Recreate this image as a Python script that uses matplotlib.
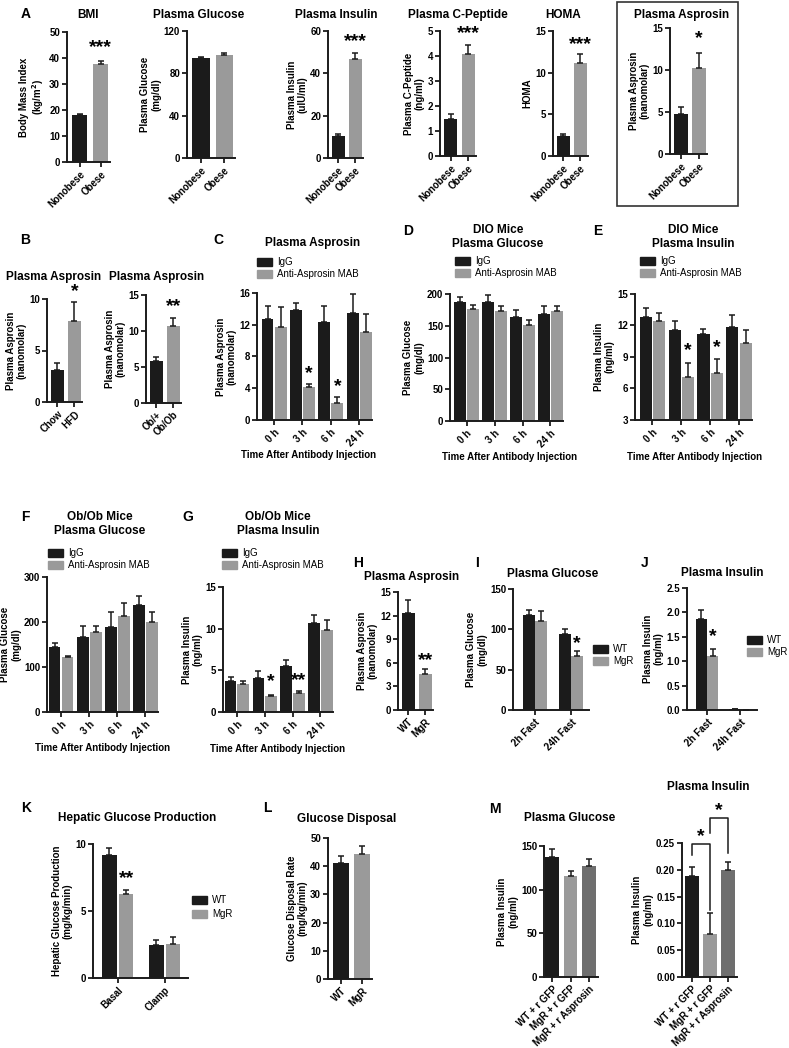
import numpy as np
import matplotlib
matplotlib.use("Agg")
import matplotlib.pyplot as plt
from matplotlib.patches import Patch, Rectangle

# === DONNÉES ===
grp_obese = ["Nonobese", "Obese"]
bmi = [18.2, 37.7]
bmi_err = [0.4, 1.1]
glc_a = [94.7, 97.3]
glc_a_err = [1.0, 1.5]
ins_a = [10.2, 46.6]
ins_a_err = [1.3, 3.2]
cpep_a = [1.47, 4.09]
cpep_a_err = [0.2, 0.36]
homa_a = [2.35, 11.2]
homa_a_err = [0.25, 1.0]
asp_a = [4.8, 10.2]
asp_a_err = [0.8, 1.8]

grp_hfd = ["Chow", "HFD"]
asp_hfd = [3.1, 7.9]
asp_hfd_err = [0.7, 1.8]
grp_ob = ["Ob/+", "Ob/Ob"]
asp_ob = [5.9, 10.7]
asp_ob_err = [0.55, 1.05]

times = ["0 h", "3 h", "6 h", "24 h"]
asp_c_igg = [12.7, 13.8, 12.3, 13.5]
asp_c_igg_err = [1.6, 0.9, 2.0, 2.4]
asp_c_mab = [11.7, 4.2, 2.2, 11.1]
asp_c_mab_err = [2.5, 0.3, 0.7, 2.3]
glc_d_igg = [188, 188, 164, 169]
glc_d_igg_err = [8, 10, 11, 12]
glc_d_mab = [177, 174, 151, 174]
glc_d_mab_err = [6, 7, 8, 7]
ins_e_igg = [12.8, 11.6, 11.2, 11.9]
ins_e_igg_err = [0.9, 0.8, 0.5, 1.1]
ins_e_mab = [12.4, 7.05, 7.45, 10.3]
ins_e_mab_err = [0.8, 1.35, 1.35, 1.3]
glc_f_igg = [145, 167, 188, 237]
glc_f_igg_err = [8, 25, 35, 20]
glc_f_mab = [122, 178, 214, 200]
glc_f_mab_err = [3, 14, 28, 22]
ins_g_igg = [3.7, 4.1, 5.5, 10.7]
ins_g_igg_err = [0.5, 0.8, 0.8, 0.9]
ins_g_mab = [3.4, 1.9, 2.3, 9.9]
ins_g_mab_err = [0.3, 0.2, 0.2, 1.2]

grp_mgr = ["WT", "MgR"]
asp_h = [12.3, 4.6]
asp_h_err = [1.7, 0.55]
fasts = ["2h Fast", "24h Fast"]
glc_i_wt = [118, 94]
glc_i_wt_err = [6, 6]
glc_i_mgr = [110, 67]
glc_i_mgr_err = [13, 6.5]
ins_j_wt = [1.86, 0.02]
ins_j_wt_err = [0.19, 0.0]
ins_j_mgr = [1.11, 0.01]
ins_j_mgr_err = [0.15, 0.0]

clamp = ["Basal", "Clamp"]
hgp_wt = [9.2, 2.5]
hgp_wt_err = [0.5, 0.3]
hgp_mgr = [6.3, 2.55]
hgp_mgr_err = [0.27, 0.5]
gdr = [41.1, 44.3]
gdr_err = [2.4, 3.0]

grp_m = ["WT + r GFP", "MgR + r GFP", "MgR + r Asprosin"]
glc_m = [137, 116, 127]
glc_m_err = [9.5, 5.5, 8]
ins_m = [0.188, 0.08, 0.2]
ins_m_err = [0.018, 0.04, 0.014]

# === STYLE ===
plt.rcParams["font.family"] = ["Liberation Sans", "DejaVu Sans"]
NOIR = "#1b1b1b"
GRIS = "#9a9a9a"
GRIS_F = "#6e6e6e"
W, H = 789, 1048
fig = plt.figure(figsize=(W / 100, H / 100), dpi=100)


def fx(x):
    return x / W


def fy(y):
    return 1 - y / H


def make_ax(box, ylim, yticks, ylabel, xlim, ticks, ticklabels, fmt="{:g}"):
    # box = (gauche, haut, droite, bas) en pixels de la figure
    x0, y0, x1, y1 = box
    ax = fig.add_axes([fx(x0), fy(y1), (x1 - x0) / W, (y1 - y0) / H])
    ax.set_xlim(*xlim)
    ax.set_ylim(*ylim)
    ax.set_yticks(yticks)
    ax.set_yticklabels([fmt.format(t) for t in yticks], fontweight="bold")
    ax.set_xticks(ticks)
    ax.set_xticklabels(ticklabels, rotation=45, ha="right",
                       rotation_mode="anchor", fontweight="bold")
    for s in ["top", "right"]:
        ax.spines[s].set_visible(False)
    for s in ["left", "bottom"]:
        ax.spines[s].set_linewidth(1.4)
        ax.spines[s].set_color(NOIR)
    ax.tick_params(width=1.3, length=3.5, labelsize=7, pad=1.5, color=NOIR)
    ax.set_ylabel(ylabel, fontsize=7, fontweight="bold", labelpad=2,
                  linespacing=1.1)
    ax.set_facecolor("none")
    return ax


def bars(ax, x, vals, errs, colors, width):
    ax.bar(x, vals, width=width, color=colors, zorder=2)
    ax.errorbar(x, vals, yerr=[np.zeros(len(vals)), errs], fmt="none",
                ecolor=NOIR, elinewidth=1.1, capsize=2.2, capthick=1.1,
                zorder=3)


def stars(ax, x, y, s):
    ax.text(x, y, s, ha="center", va="center", fontsize=14,
            fontweight="bold", clip_on=False)


def title(x, y, s):
    fig.text(fx(x), fy(y), s, ha="center", va="center", fontsize=8.5,
             fontweight="bold", linespacing=1.15)


def letter(x, y, s):
    fig.text(fx(x), fy(y), s, ha="center", va="center", fontsize=10,
             fontweight="bold")


def legende(x, y, labels, spacing=0.25):
    fig.legend(handles=[Patch(color=NOIR), Patch(color=GRIS)], labels=labels,
               loc="upper left", bbox_to_anchor=(fx(x), fy(y)),
               frameon=False, fontsize=7, handlelength=1.5, handleheight=0.9,
               labelspacing=spacing, handletextpad=0.6, borderaxespad=0,
               borderpad=0)


def simple(box, vals, errs, labels, ylim, yticks, ylabel, colors=None,
           fmt="{:g}", xlim=(-0.6, 1.45)):
    x = np.arange(len(vals))
    ax = make_ax(box, ylim, yticks, ylabel, xlim, x, labels, fmt)
    bars(ax, x, vals, errs, colors or [NOIR, GRIS], 0.75)
    return ax


def groupe(box, v1, e1, v2, e2, labels, ylim, yticks, ylabel, width=0.42,
           off=0.23, xlim=(-0.6, 3.45), fmt="{:g}"):
    x = np.arange(len(v1))
    ax = make_ax(box, ylim, yticks, ylabel, xlim, x, labels, fmt)
    bars(ax, x - off, v1, e1, NOIR, width)
    bars(ax, x + off, v2, e2, GRIS, width)
    return ax


# === A ===
letter(26, 14, "A")
ax = simple((67, 32, 110, 162), bmi, bmi_err, grp_obese, (0, 50),
            range(0, 51, 10), "Body Mass Index\n(kg/m$^\\mathbf{2}$)")
stars(ax, 1, 44, "***")
title(88, 15, "BMI")

ax = simple((187, 31, 235, 158), glc_a, glc_a_err, grp_obese, (0, 120),
            [0, 40, 80, 120], "Plasma Glucose\n(mg/dl)")
title(199, 15, "Plasma Glucose")

ax = simple((328, 31, 363, 158), ins_a, ins_a_err, grp_obese, (0, 60),
            [0, 20, 40, 60], "Plasma Insulin\n(uIU/ml)")
stars(ax, 1, 55, "***")
title(336, 15, "Plasma Insulin")

ax = simple((440, 31, 476, 156), cpep_a, cpep_a_err, grp_obese, (0, 5),
            range(6), "Plasma C-Peptide\n(ng/ml)")
stars(ax, 1, 4.9, "***")
title(458, 15, "Plasma C-Peptide")

ax = simple((553, 31, 588, 156), homa_a, homa_a_err, grp_obese, (0, 15),
            [0, 5, 10, 15], "HOMA")
stars(ax, 1, 13.4, "***")
title(563, 15, "HOMA")

ax = simple((670, 28, 707, 154), asp_a, asp_a_err, grp_obese, (0, 15),
            [0, 5, 10, 15], "Plasma Asprosin\n(nanomolar)")
stars(ax, 1, 13.8, "*")
title(682, 15, "Plasma Asprosin")
fig.patches.append(Rectangle((fx(617), fy(206)), fx(738) - fx(617),
                             fy(2) - fy(206), transform=fig.transFigure,
                             fill=False, edgecolor="#333333", lw=1.2))

# === B ===
letter(25, 240, "B")
ax = simple((47, 299, 82, 402), asp_hfd, asp_hfd_err, grp_hfd, (0, 10),
            [0, 5, 10], "Plasma Asprosin\n(nanomolar)")
stars(ax, 1, 10.7, "*")
title(54, 277, "Plasma Asprosin")

ax = simple((146, 295, 181, 403), asp_ob, asp_ob_err, grp_ob, (0, 15),
            [0, 5, 10, 15], "Plasma Asprosin\n(nanomolar)")
stars(ax, 1, 13.4, "**")
title(157, 277, "Plasma Asprosin")

# === C ===
letter(218, 240, "C")
ax = groupe((257, 293, 372, 420), asp_c_igg, asp_c_igg_err, asp_c_mab,
            asp_c_mab_err, times, (0, 16), [0, 4, 8, 12, 16],
            "Plasma Asprosin\n(nanomolar)")
stars(ax, 1.23, 5.9, "*")
stars(ax, 2.23, 4.2, "*")
title(313, 243, "Plasma Asprosin")
legende(257, 257, ["IgG", "Anti-Asprosin MAB"])
fig.text(fx(309), fy(455), "Time After Antibody Injection", ha="center",
         va="center", fontsize=7, fontweight="bold")

# === D ===
letter(408, 231, "D")
ax = groupe((450, 294, 563, 421), glc_d_igg, glc_d_igg_err, glc_d_mab,
            glc_d_mab_err, times, (0, 200), [0, 50, 100, 150, 200],
            "Plasma Glucose\n(mg/dl)")
title(498, 237, "DIO Mice\nPlasma Glucose")
legende(455, 256, ["IgG", "Anti-Asprosin MAB"])
fig.text(fx(510), fy(457), "Time After Antibody Injection", ha="center",
         va="center", fontsize=7, fontweight="bold")

# === E ===
letter(598, 231, "E")
ax = groupe((635, 294, 752, 420), ins_e_igg, ins_e_igg_err, ins_e_mab,
            ins_e_mab_err, times, (3, 15), [3, 6, 9, 12, 15],
            "Plasma Insulin\n(ng/ml)")
stars(ax, 1.23, 9.6, "*")
stars(ax, 2.23, 9.9, "*")
title(693, 237, "DIO Mice\nPlasma Insulin")
legende(640, 256, ["IgG", "Anti-Asprosin MAB"])
fig.text(fx(695), fy(457), "Time After Antibody Injection", ha="center",
         va="center", fontsize=7, fontweight="bold")

# === F ===
letter(25, 517, "F")
ax = groupe((47, 577, 158, 712), glc_f_igg, glc_f_igg_err, glc_f_mab,
            glc_f_mab_err, times, (0, 300), [0, 100, 200, 300],
            "Plasma Glucose\n(mg/dl)", xlim=(-0.5, 3.45))
title(100, 524, "Ob/Ob Mice\nPlasma Glucose")
legende(48, 548, ["IgG", "Anti-Asprosin MAB"])
fig.text(fx(103), fy(748), "Time After Antibody Injection", ha="center",
         va="center", fontsize=7, fontweight="bold")

# === G ===
letter(188, 517, "G")
ax = groupe((223, 587, 333, 712), ins_g_igg, ins_g_igg_err, ins_g_mab,
            ins_g_mab_err, times, (0, 15), [0, 5, 10, 15],
            "Plasma Insulin\n(ng/ml)", xlim=(-0.5, 3.45))
stars(ax, 1.23, 3.6, "*")
stars(ax, 2.23, 3.8, "**")
title(278, 524, "Ob/Ob Mice\nPlasma Insulin")
legende(222, 548, ["IgG", "Anti-Asprosin MAB"])
fig.text(fx(278), fy(749), "Time After Antibody Injection", ha="center",
         va="center", fontsize=7, fontweight="bold")

# === H ===
letter(358, 563, "H")
ax = simple((398, 592, 433, 710), asp_h, asp_h_err, grp_mgr, (0, 15),
            range(0, 16, 3), "Plasma Asprosin\n(nanomolar)")
stars(ax, 1, 6.3, "**")
title(412, 577, "Plasma Asprosin")

# === I ===
letter(477, 563, "I")
ax = groupe((513, 589, 589, 710), glc_i_wt, glc_i_wt_err, glc_i_mgr,
            glc_i_mgr_err, fasts, (0, 150), [0, 50, 100, 150],
            "Plasma Glucose\n(mg/dl)", width=0.33, off=0.17, xlim=(-0.6, 1.5))
stars(ax, 1.17, 82, "*")
title(553, 574, "Plasma Glucose")
legende(593, 644, ["WT", "MgR"])

# === J ===
letter(645, 563, "J")
ax = groupe((687, 588, 757, 710), ins_j_wt, ins_j_wt_err, ins_j_mgr,
            ins_j_mgr_err, fasts, (0, 2.5), [0, 0.5, 1.0, 1.5, 2.0, 2.5],
            "Plasma Insulin\n(ng/ml)", width=0.33, off=0.17, xlim=(-0.6, 1.5),
            fmt="{:.1f}")
stars(ax, 0.17, 1.5, "*")
title(722, 573, "Plasma Insulin")
legende(747, 635, ["WT", "MgR"])

# === K ===
letter(26, 808, "K")
ax = groupe((93, 844, 188, 978), hgp_wt, hgp_wt_err, hgp_mgr, hgp_mgr_err,
            clamp, (0, 10), [0, 5, 10],
            "Hepatic Glucose Production\n(mg/kg/min)", width=0.3, off=0.18,
            xlim=(-0.53, 1.49))
stars(ax, 0.18, 7.4, "**")
title(137, 818, "Hepatic Glucose Production")
legende(192, 895, ["WT", "MgR"], spacing=0.45)

# === L ===
letter(267, 808, "L")
ax = simple((328, 838, 372, 979), gdr, gdr_err, grp_mgr, (0, 50),
            range(0, 51, 10), "Glucose Disposal Rate\n(mg/kg/min)")
title(347, 819, "Glucose Disposal")

# === M ===
letter(495, 809, "M")
ax = simple((544, 846, 598, 977), glc_m, glc_m_err, grp_m, (0, 150),
            [0, 50, 100, 150], "Plasma Insulin\n(ng/ml)",
            colors=[NOIR, GRIS, GRIS_F], xlim=(-0.45, 2.5))
title(570, 818, "Plasma Glucose")

ax = simple((682, 843, 737, 977), ins_m, ins_m_err, grp_m, (0, 0.25),
            [0, 0.05, 0.10, 0.15, 0.20, 0.25], "Plasma Insulin\n(ng/ml)",
            colors=[NOIR, GRIS, GRIS_F], fmt="{:.2f}", xlim=(-0.55, 2.5))
title(708, 787, "Plasma Insulin")
# crochets de significativité
ax.plot([0, 0, 1, 1], [0.228, 0.248, 0.248, 0.125], color=NOIR, lw=1.1,
        clip_on=False)
ax.plot([1, 1, 2, 2], [0.268, 0.297, 0.297, 0.232], color=NOIR, lw=1.1,
        clip_on=False)
stars(ax, 0.5, 0.262, "*")
stars(ax, 1.5, 0.311, "*")

fig.savefig("out.png", dpi=100)
print("figure enregistrée : out.png")
